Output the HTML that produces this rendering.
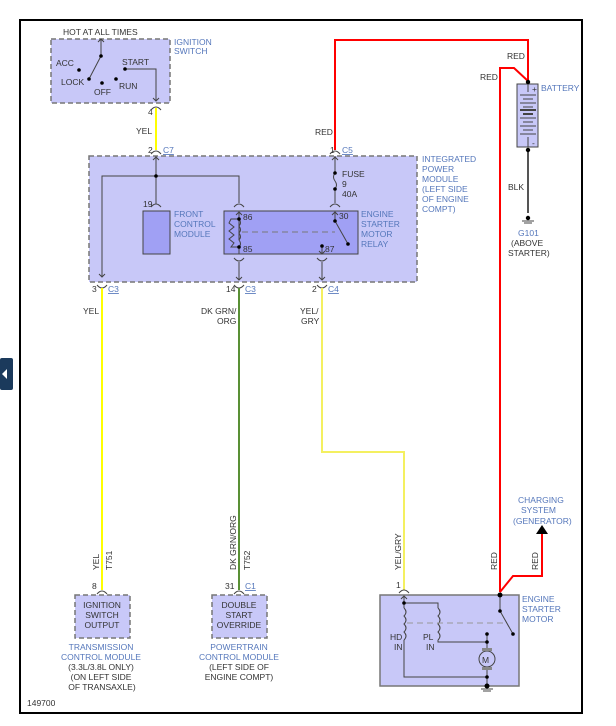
<!DOCTYPE html>
<html><head><meta charset="utf-8"><style>
html,body{margin:0;padding:0;background:#fff}
svg{display:block}
text{font-family:"Liberation Sans",sans-serif;font-size:8.5px;fill:#333}
.b{fill:#5577bb}
.u{fill:#5577bb;text-decoration:underline}
</style></head><body>
<svg width="616" height="726" viewBox="0 0 616 726" xmlns="http://www.w3.org/2000/svg">
<rect x="20" y="20" width="562" height="693" fill="#fff" stroke="#000" stroke-width="2"/>
<rect x="0" y="358" width="13" height="32" rx="2" fill="#1b3a5c"/>
<polygon points="2,374 7,369 7,379" fill="#fff"/>

<!-- Ignition switch -->
<rect x="51" y="39" width="119" height="64" fill="#c8c8f8" stroke="#777" stroke-width="1.5" stroke-dasharray="5,3"/>
<text x="63" y="35">HOT AT ALL TIMES</text>
<text x="174" y="45" class="b">IGNITION</text><text x="174" y="54" class="b">SWITCH</text>
<g stroke="#444" stroke-width="1" fill="none">
<line x1="101" y1="39" x2="101" y2="56"/><polyline points="98,42 101,39 104,42"/>
<line x1="101" y1="56" x2="89" y2="79"/>
<polyline points="125,69 156,69 156,101"/><polyline points="153,98 156,101 159,98"/>
</g>
<g fill="#000"><circle cx="101" cy="56" r="1.8"/><circle cx="89" cy="79" r="1.8"/><circle cx="79" cy="70" r="1.8"/><circle cx="102" cy="83" r="1.8"/><circle cx="116" cy="79" r="1.8"/><circle cx="125" cy="69" r="1.8"/></g>
<text x="56" y="66">ACC</text><text x="61" y="85">LOCK</text><text x="94" y="95">OFF</text><text x="119" y="89">RUN</text><text x="122" y="65">START</text>
<text x="148" y="115">4</text>
<path d="M151,110 Q156,104 161,110" stroke="#444" fill="none"/>
<line x1="156" y1="108" x2="156" y2="150" stroke="#ff0" stroke-width="2"/>
<text x="136" y="134">YEL</text>
<text x="148" y="153">2</text><text x="163" y="153" class="u">C7</text>
<path d="M151,154 Q156,148 161,154" stroke="#444" fill="none"/>

<!-- IPM -->
<rect x="89" y="156" width="328" height="126" fill="#c8c8f8" stroke="#777" stroke-width="1.5" stroke-dasharray="5,3"/>
<text x="422" y="162" class="b">INTEGRATED</text><text x="422" y="172" class="b">POWER</text><text x="422" y="182" class="b">MODULE</text><text x="422" y="192" class="b">(LEFT SIDE</text><text x="422" y="202" class="b">OF ENGINE</text><text x="422" y="212" class="b">COMPT)</text>
<rect x="143" y="211" width="27" height="43" fill="#a0a0f4" stroke="#444"/>
<text x="174" y="217" class="b">FRONT</text><text x="174" y="227" class="b">CONTROL</text><text x="174" y="237" class="b">MODULE</text>
<rect x="224" y="211" width="134" height="43" fill="#a0a0f4" stroke="#444"/>
<text x="361" y="217" class="b">ENGINE</text><text x="361" y="227" class="b">STARTER</text><text x="361" y="237" class="b">MOTOR</text><text x="361" y="247" class="b">RELAY</text>
<g stroke="#444" stroke-width="1" fill="none">
<line x1="156" y1="156" x2="156" y2="204"/><polyline points="153,160 156,157 159,160"/>
<path d="M151,207 Q156,201 161,207"/>
<polyline points="102,277 102,176 239,176 239,203"/>
<path d="M234,207 Q239,201 244,207"/>
<polyline points="99,274 102,277 105,274"/>
<line x1="239" y1="212" x2="239" y2="240"/><polyline points="236,215 239,212 242,215"/>
<polyline points="239,219 231,219 229,223 234,227 229,231 234,235 229,239 234,243 231,247 239,247"/>
<path d="M239,219 q3,4 0,7 q3,4 0,7 q3,4 0,7 q3,4 0,7"/>
<line x1="239" y1="247" x2="239" y2="254"/>
<path d="M234,258 Q239,264 244,258"/>
<line x1="239" y1="262" x2="239" y2="280"/><polyline points="236,277 239,280 242,277"/>
<line x1="242" y1="232" x2="335" y2="232" stroke="#777" stroke-dasharray="6,4"/>
<line x1="335" y1="156" x2="335" y2="173"/><polyline points="332,160 335,157 338,160"/>
<path d="M335,173 q-3,4 0,8 q3,4 0,8"/>
<line x1="335" y1="189" x2="335" y2="203"/>
<path d="M330,207 Q335,201 340,207"/>
<line x1="335" y1="212" x2="335" y2="221"/><polyline points="332,215 335,212 338,215"/>
<line x1="335" y1="221" x2="348" y2="244"/>
<line x1="322" y1="246" x2="322" y2="254"/><polyline points="319,251 322,254 325,251"/>
<path d="M317,258 Q322,264 327,258"/>
<line x1="322" y1="262" x2="322" y2="280"/><polyline points="319,277 322,280 325,277"/>
</g>
<g fill="#000"><circle cx="102" cy="176" r="0"/><circle cx="156" cy="176" r="1.8"/><circle cx="239" cy="219" r="1.8"/><circle cx="239" cy="247" r="1.8"/><circle cx="335" cy="173" r="1.8"/><circle cx="335" cy="189" r="1.8"/><circle cx="335" cy="221" r="1.8"/><circle cx="348" cy="244" r="1.8"/><circle cx="322" cy="246" r="1.8"/></g>
<text x="143" y="207">19</text>
<text x="243" y="220">86</text><text x="243" y="252">85</text><text x="339" y="219">30</text><text x="325" y="252">87</text>
<text x="342" y="177">FUSE</text><text x="342" y="187">9</text><text x="342" y="197">40A</text>

<!-- bottom connectors -->
<g stroke="#444" fill="none">
<path d="M97,285 Q102,291 107,285"/><path d="M234,285 Q239,291 244,285"/><path d="M317,285 Q322,291 327,285"/>
</g>
<text x="92" y="292">3</text><text x="108" y="292" class="u">C3</text>
<text x="226" y="292">14</text><text x="245" y="292" class="u">C3</text>
<text x="312" y="292">2</text><text x="328" y="292" class="u">C4</text>

<!-- wires -->
<line x1="102" y1="288" x2="102" y2="590" stroke="#ff0" stroke-width="2"/>
<line x1="239" y1="288" x2="239" y2="590" stroke="#2a8a2a" stroke-width="2"/>
<line x1="239" y1="288" x2="239" y2="590" stroke="#c8a050" stroke-width="0.6"/>
<polyline points="322,288 322,452 404,452 404,590" fill="none" stroke="#f4f060" stroke-width="2"/>
<text x="83" y="314">YEL</text>
<text x="201" y="314">DK GRN/</text><text x="217" y="324">ORG</text>
<text x="300" y="314">YEL/</text><text x="301" y="324">GRY</text>
<text transform="translate(99,570) rotate(-90)">YEL</text>
<text transform="translate(112,570) rotate(-90)">T751</text>
<text transform="translate(236,570) rotate(-90)">DK GRN/ORG</text>
<text transform="translate(250,570) rotate(-90)">T752</text>
<text transform="translate(401,570) rotate(-90)">YEL/GRY</text>

<!-- red wires -->
<g stroke="#f00" stroke-width="2" fill="none">
<polyline points="335,150 335,40 528,40 528,82"/>
<polyline points="500,592 500,68 514,68 528,81"/>
<polyline points="500,592 513,576 542,576 542,532"/>
</g>
<polygon points="536,534 542,525 548,534" fill="#000"/>
<text x="315" y="135">RED</text><text x="330" y="153">1</text><text x="342" y="153" class="u">C5</text>
<path d="M330,154 Q335,148 340,154" stroke="#444" fill="none"/>
<text x="507" y="59">RED</text><text x="480" y="80">RED</text>
<text transform="translate(497,570) rotate(-90)">RED</text>
<text transform="translate(538,570) rotate(-90)">RED</text>
<text x="518" y="503" class="b">CHARGING</text><text x="521" y="513" class="b">SYSTEM</text><text x="513" y="524" class="b">(GENERATOR)</text>

<!-- battery -->
<rect x="517" y="84" width="21" height="63" fill="#c8c8f8" stroke="#444"/>
<g stroke="#444"><line x1="528" y1="84" x2="528" y2="92"/>
<line x1="520" y1="95" x2="536" y2="95"/><line x1="523" y1="99" x2="533" y2="99"/><line x1="520" y1="103" x2="536" y2="103"/><line x1="523" y1="107" x2="533" y2="107"/><line x1="520" y1="110" x2="536" y2="110" stroke-width="2"/><line x1="523" y1="114" x2="533" y2="114" stroke-width="2"/><line x1="520" y1="118" x2="536" y2="118"/><line x1="523" y1="122" x2="533" y2="122"/><line x1="520" y1="126" x2="536" y2="126"/><line x1="523" y1="130" x2="533" y2="130"/><line x1="520" y1="134" x2="536" y2="134"/>
<line x1="528" y1="137" x2="528" y2="147"/>
<line x1="528" y1="150" x2="528" y2="213" stroke="#555" stroke-width="2"/>
<line x1="522" y1="221" x2="534" y2="221"/><line x1="524" y1="223" x2="532" y2="223"/></g>
<g fill="#000"><circle cx="528" cy="82" r="2.2"/><circle cx="528" cy="150" r="2.2"/><circle cx="528" cy="218" r="2.2"/></g>
<text x="532" y="92" font-size="7">+</text><text x="532" y="146" font-size="7">-</text>
<text x="541" y="91" class="b">BATTERY</text>
<text x="508" y="190">BLK</text>
<text x="518" y="236" class="b">G101</text><text x="511" y="246">(ABOVE</text><text x="508" y="256">STARTER)</text>

<!-- starter -->
<text x="396" y="588">1</text>
<path d="M399,593 Q404,587 409,593" stroke="#444" fill="none"/>
<rect x="380" y="595" width="139" height="91" fill="#c8c8f8" stroke="#777" stroke-width="1.5"/>
<text x="522" y="602" class="b">ENGINE</text><text x="522" y="612" class="b">STARTER</text><text x="522" y="622" class="b">MOTOR</text>
<g stroke="#444" fill="none">
<line x1="404" y1="596" x2="404" y2="603"/><polyline points="401,599 404,596 407,599"/>
<polyline points="438,608 438,603 404,603 404,608"/>
<path d="M404,608 q4,4 0,8 q4,4 0,8 q4,4 0,8 q4,4 0,8"/>
<path d="M438,608 q4,4 0,8 q4,4 0,8 q4,4 0,8 q4,4 0,8"/>
<polyline points="404,640 404,677 487,677"/>
<polyline points="438,640 438,642 487,642"/>
<line x1="487" y1="634" x2="487" y2="651"/><line x1="487" y1="667" x2="487" y2="686"/>
<circle cx="487" cy="659" r="8"/>
<line x1="407" y1="623" x2="505" y2="623" stroke="#999" stroke-dasharray="6,4"/>
<line x1="500" y1="595" x2="500" y2="611"/><line x1="500" y1="611" x2="513" y2="634"/>
<line x1="481" y1="689" x2="493" y2="689"/><line x1="483" y1="691" x2="491" y2="691"/>
</g>
<rect x="482" y="648" width="10" height="3" fill="#888"/><rect x="482" y="667" width="10" height="3" fill="#888"/>
<text x="482" y="663" font-size="10" fill="#222">M</text>
<g fill="#000"><circle cx="500" cy="595" r="2.5"/><circle cx="500" cy="611" r="1.8"/><circle cx="513" cy="634" r="1.8"/><circle cx="404" cy="603" r="1.8"/><circle cx="487" cy="634" r="1.8"/><circle cx="487" cy="642" r="1.8"/><circle cx="487" cy="677" r="1.8"/><circle cx="487" cy="686" r="2.5"/></g>
<text x="390" y="640">HD</text><text x="394" y="650">IN</text><text x="423" y="640">PL</text><text x="426" y="650">IN</text>

<!-- bottom modules -->
<text x="92" y="589">8</text>
<path d="M97,594 Q102,588 107,594" stroke="#444" fill="none"/>
<rect x="75" y="595" width="55" height="43" fill="#c8c8f8" stroke="#777" stroke-width="1.5" stroke-dasharray="5,3"/>
<text x="102" y="608" text-anchor="middle">IGNITION</text><text x="102" y="618" text-anchor="middle">SWITCH</text><text x="102" y="628" text-anchor="middle">OUTPUT</text>
<text x="101" y="650" text-anchor="middle" class="b">TRANSMISSION</text><text x="101" y="660" text-anchor="middle" class="b">CONTROL MODULE</text><text x="101" y="670" text-anchor="middle">(3.3L/3.8L ONLY)</text><text x="101" y="680" text-anchor="middle">(ON LEFT SIDE</text><text x="102" y="690" text-anchor="middle">OF TRANSAXLE)</text>
<text x="225" y="589">31</text><text x="245" y="589" class="u">C1</text>
<path d="M234,594 Q239,588 244,594" stroke="#444" fill="none"/>
<rect x="212" y="595" width="55" height="43" fill="#c8c8f8" stroke="#777" stroke-width="1.5" stroke-dasharray="5,3"/>
<text x="239" y="608" text-anchor="middle">DOUBLE</text><text x="239" y="618" text-anchor="middle">START</text><text x="239" y="628" text-anchor="middle">OVERRIDE</text>
<text x="239" y="650" text-anchor="middle" class="b">POWERTRAIN</text><text x="239" y="660" text-anchor="middle" class="b">CONTROL MODULE</text><text x="239" y="670" text-anchor="middle">(LEFT SIDE OF</text><text x="239" y="680" text-anchor="middle">ENGINE COMPT)</text>
<text x="27" y="706" font-size="8">149700</text>
</svg>
</body></html>
